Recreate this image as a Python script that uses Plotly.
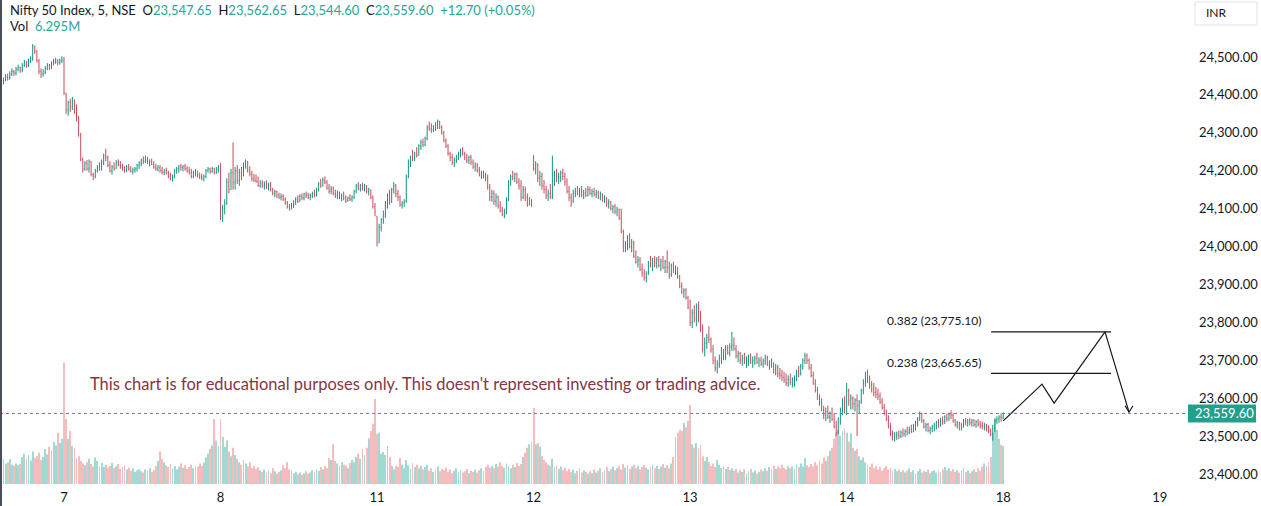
import plotly.graph_objects as go

# ---------------- DATA (5-min bars, NIFTY 50) ----------------
day_labels = ["6", "7", "8", "11", "12", "13", "14", "18"]
session_opens = [24420, 24490, 24220, 24080, 24240, 23855, 23560, 23547.65]

c06 = [24425,24432,24440,24448,24445,24455,24462,24458,24468,24472,24466,24478,24485,24480,24490,24495,24528,24515,24490,24462,24455,24460,24470,24478,24472,24482,24488,24492,24485,24490,24495]
h06 = [24438,24440,24446,24455,24456,24462,24470,24466,24474,24480,24475,24484,24492,24490,24496,24502,24534,24530,24518,24495,24470,24468,24476,24484,24482,24488,24495,24498,24494,24496,24502]
l06 = [24412,24420,24428,24436,24438,24440,24450,24450,24452,24462,24458,24460,24474,24472,24474,24484,24490,24508,24485,24455,24445,24448,24455,24465,24466,24468,24478,24482,24478,24480,24484]

c07 = [24405,24360,24380,24370,24385,24355,24340,24295,24230,24205,
       24220,24205,24225,24190,24185,24200,24210,24205,24225,24240,
       24235,24215,24200,24210,24205,24222,24215,24210,24205,24200,
       24210,24205,24198,24202,24205,24215,24220,24228,24225,24232,
       24222,24225,24218,24210,24205,24208,24200,24195,24200,24195,
       24185,24180,24185,24200,24205,24212,24208,24212,24205,24200,
       24195,24185,24195,24190,24188,24185,24180,24185,24200,24205,
       24198,24205,24195,24205,24210]
h07 = [24500,24400,24385,24390,24395,24388,24375,24345,24300,24235,
       24225,24228,24230,24225,24195,24205,24215,24222,24230,24245,
       24258,24240,24225,24215,24222,24228,24230,24225,24218,24212,
       24215,24218,24212,24208,24210,24218,24225,24232,24238,24240,
       24236,24230,24232,24225,24218,24215,24215,24210,24205,24208,
       24200,24195,24190,24205,24210,24215,24218,24215,24218,24212,
       24210,24205,24200,24205,24200,24195,24192,24190,24205,24210,
       24208,24210,24208,24210,24215]
l07 = [24400,24350,24345,24355,24360,24350,24330,24290,24225,24195,
       24200,24200,24195,24185,24175,24180,24195,24200,24200,24215,
       24225,24210,24195,24190,24200,24205,24212,24205,24200,24195,
       24196,24200,24195,24190,24195,24198,24205,24212,24218,24220,
       24218,24212,24215,24205,24200,24198,24195,24190,24188,24190,
       24180,24175,24172,24180,24192,24195,24200,24198,24200,24195,
       24190,24180,24180,24185,24182,24178,24175,24172,24180,24195,
       24192,24195,24190,24192,24195]

c08 = [24080,24100,24115,24170,24150,24195,24170,24200,24175,24195,
       24190,24218,24225,24200,24190,24180,24175,24172,24160,24168,
       24160,24165,24158,24162,24150,24140,24145,24135,24130,24132,
       24125,24115,24105,24100,24110,24118,24125,24120,24132,24128,
       24138,24135,24130,24135,24140,24135,24150,24165,24160,24175,
       24170,24155,24145,24152,24140,24135,24140,24130,24135,24128,
       24122,24128,24125,24130,24145,24160,24152,24162,24155,24160,
       24145,24150,24130,24105,24090]
h08 = [24220,24110,24125,24180,24195,24205,24275,24210,24215,24205,
       24210,24222,24230,24225,24212,24200,24192,24190,24185,24175,
       24175,24172,24175,24168,24170,24155,24150,24148,24142,24140,
       24138,24130,24120,24112,24115,24122,24130,24135,24138,24140,
       24142,24145,24142,24140,24145,24150,24155,24170,24178,24182,
       24185,24175,24165,24160,24158,24150,24148,24145,24140,24145,
       24135,24132,24138,24135,24150,24165,24170,24165,24168,24165,
       24162,24155,24150,24135,24115]
l08 = [24070,24065,24085,24110,24140,24150,24150,24150,24165,24160,
       24175,24185,24205,24195,24185,24172,24170,24168,24158,24155,
       24155,24150,24152,24148,24145,24135,24130,24128,24125,24122,
       24120,24110,24100,24095,24098,24102,24110,24115,24118,24122,
       24122,24128,24125,24122,24128,24130,24132,24145,24155,24158,
       24165,24150,24140,24138,24135,24128,24125,24125,24120,24122,
       24115,24118,24120,24118,24125,24140,24148,24145,24148,24145,
       24140,24135,24125,24100,24080]

c11 = [24010,24050,24070,24085,24110,24130,24120,24150,24160,24140,
       24130,24110,24115,24120,24185,24225,24235,24230,24245,24240,
       24265,24275,24268,24285,24315,24310,24308,24315,24312,24330,
       24315,24300,24280,24265,24245,24235,24222,24228,24238,24245,
       24252,24245,24235,24228,24235,24222,24210,24215,24200,24190,
       24195,24185,24180,24155,24130,24140,24120,24130,24108,24095,
       24085,24090,24125,24170,24185,24180,24190,24170,24160,24130,
       24150,24130,24112,24112,24110]
h11 = [24080,24060,24075,24095,24120,24140,24150,24155,24170,24165,
       24150,24135,24120,24125,24190,24230,24240,24255,24250,24262,
       24270,24282,24285,24290,24320,24330,24325,24320,24328,24335,
       24332,24320,24305,24285,24270,24250,24245,24235,24242,24250,
       24258,24262,24250,24245,24240,24242,24230,24222,24220,24210,
       24200,24200,24195,24190,24165,24150,24148,24140,24135,24120,
       24105,24100,24130,24175,24190,24200,24195,24195,24180,24175,
       24160,24158,24140,24130,24125]
l11 = [24000,24010,24040,24060,24075,24100,24110,24115,24140,24130,
       24120,24105,24100,24105,24115,24180,24210,24225,24225,24235,
       24240,24255,24262,24265,24280,24305,24300,24302,24305,24310,
       24310,24295,24275,24260,24240,24225,24215,24210,24220,24228,
       24235,24240,24228,24220,24218,24215,24205,24198,24195,24185,
       24178,24180,24172,24150,24120,24118,24110,24105,24100,24090,
       24080,24075,24085,24120,24160,24175,24170,24165,24150,24120,
       24125,24120,24105,24108,24105]

c12 = [24205,24215,24180,24185,24160,24150,24135,24140,24130,24175,
       24190,24180,24185,24195,24185,24170,24145,24130,24120,24140,
       24145,24140,24150,24138,24142,24135,24150,24140,24145,24138,
       24142,24130,24138,24125,24128,24112,24118,24100,24105,24092,
       24098,24075,24040,24000,24005,24020,24000,24010,23975,23960,
       23965,23940,23930,23918,23930,23955,23950,23960,23955,23965,
       23950,23960,23945,23960,23945,23925,23950,23940,23945,23920,
       23895,23880,23885,23865,23840]
h12 = [24240,24225,24220,24200,24195,24175,24160,24150,24165,24240,
       24200,24205,24195,24200,24205,24195,24180,24160,24140,24150,
       24155,24160,24155,24160,24150,24155,24160,24158,24152,24155,
       24150,24148,24145,24140,24135,24130,24125,24120,24110,24112,
       24105,24100,24100,24045,24015,24030,24035,24020,24015,23990,
       23975,23972,23955,23940,23935,23962,23975,23970,23975,23972,
       23975,23968,23975,23965,23990,23960,23955,23960,23950,23945,
       23925,23905,23890,23890,23870]
l12 = [24200,24190,24170,24160,24150,24140,24125,24120,24125,24125,
       24160,24170,24165,24170,24175,24160,24140,24120,24105,24115,
       24130,24135,24130,24130,24125,24130,24132,24135,24130,24132,
       24128,24125,24122,24118,24115,24105,24100,24095,24088,24085,
       24080,24070,24035,23985,23985,23990,23995,23985,23970,23955,
       23945,23935,23920,23910,23905,23925,23945,23935,23945,23942,
       23945,23935,23940,23930,23930,23915,23920,23930,23925,23915,
       23890,23875,23865,23860,23835]

c13 = [23800,23825,23810,23840,23810,23785,23730,23745,23760,23755,
       23730,23700,23680,23690,23705,23725,23710,23730,23720,23735,
       23740,23730,23712,23718,23700,23705,23695,23700,23710,23695,
       23700,23705,23695,23700,23690,23698,23705,23690,23695,23685,
       23675,23680,23665,23660,23655,23648,23640,23650,23642,23648,
       23655,23670,23665,23685,23700,23712,23700,23680,23660,23640,
       23620,23600,23590,23570,23555,23565,23550,23560,23545,23525,
       23510,23540,23565,23590,23570]
h13 = [23860,23835,23845,23850,23855,23830,23795,23760,23770,23790,
       23760,23740,23710,23700,23715,23735,23730,23740,23740,23745,
       23775,23760,23740,23725,23722,23715,23720,23710,23715,23718,
       23710,23712,23720,23708,23710,23705,23715,23712,23700,23705,
       23695,23690,23688,23680,23675,23670,23665,23660,23665,23655,
       23660,23675,23685,23690,23705,23720,23718,23705,23690,23670,
       23650,23630,23610,23600,23580,23575,23580,23565,23575,23560,
       23540,23550,23575,23600,23605]
l13 = [23790,23785,23800,23790,23800,23775,23720,23710,23730,23745,
       23720,23690,23670,23665,23680,23690,23700,23700,23715,23710,
       23725,23725,23705,23695,23690,23685,23690,23680,23685,23690,
       23680,23688,23690,23682,23685,23680,23688,23685,23675,23680,
       23665,23660,23655,23650,23645,23640,23632,23630,23635,23628,
       23630,23645,23655,23660,23675,23690,23690,23675,23655,23635,
       23615,23595,23580,23565,23545,23540,23545,23535,23540,23520,
       23500,23505,23530,23555,23560]

c14 = [23620,23595,23600,23585,23595,23580,23590,23620,23640,23665,
       23650,23635,23625,23615,23610,23605,23590,23575,23560,23545,
       23525,23505,23495,23500,23505,23500,23510,23505,23512,23510,
       23518,23515,23525,23535,23545,23560,23540,23525,23530,23515,
       23520,23525,23530,23535,23530,23542,23538,23550,23545,23558,
       23555,23540,23530,23535,23522,23530,23540,23535,23540,23535,
       23540,23530,23538,23532,23528,23525,23530,23518,23512,23505,
       23520,23540,23545,23550,23548]
h14 = [23640,23625,23610,23605,23600,23610,23595,23625,23650,23670,
       23675,23660,23645,23640,23630,23625,23615,23600,23585,23570,
       23555,23535,23515,23510,23512,23515,23515,23520,23518,23525,
       23525,23530,23532,23540,23550,23565,23562,23545,23535,23535,
       23525,23530,23535,23540,23545,23548,23552,23555,23560,23562,
       23568,23560,23545,23540,23538,23535,23545,23548,23545,23548,
       23545,23545,23542,23545,23540,23538,23535,23532,23528,23520,
       23530,23545,23552,23555,23560]
l14 = [23555,23580,23570,23570,23565,23500,23560,23585,23610,23630,
       23640,23625,23615,23605,23600,23595,23585,23570,23555,23540,
       23520,23500,23488,23485,23490,23492,23495,23498,23498,23502,
       23505,23508,23510,23515,23525,23540,23535,23520,23512,23510,
       23505,23510,23512,23518,23522,23525,23530,23532,23538,23540,
       23545,23535,23525,23520,23515,23515,23522,23528,23525,23528,
       23525,23525,23522,23525,23520,23518,23515,23512,23508,23500,
       23488,23510,23532,23535,23538]

c18 = [23559.60]
h18 = [23562.65]
l18 = [23544.60]

# volume, millions
v06 = [3.5,4.0,4.2,3.4,3.6,4.1,3.2,3.0,3.4,3.1,3.3,4.5,5.0,4.2,4.8,3.9,5.4,4.3,4.6,5.2,4.0,4.5,5.8,4.9,6.2,5.5,7.0,6.4,8.5,6.8,7.5]
v07 = [20.1,10.8,7.5,8.8,6.3,6.0,4.3,4.6,3.8,3.4,
       3.1,3.6,4.2,3.3,2.9,4.4,3.8,3.0,3.5,2.8,
       3.2,2.7,3.0,3.5,2.6,2.9,3.3,2.5,2.8,3.1,
       2.4,2.7,2.2,2.6,2.0,2.3,2.5,2.1,1.9,2.4,
       2.2,2.6,2.0,2.3,3.0,3.8,5.4,4.2,3.6,3.1,
       2.8,3.3,2.6,3.0,2.4,2.9,3.4,2.7,3.1,2.5,
       2.8,3.2,2.6,3.0,2.9,3.4,3.0,3.6,4.4,5.0,
       5.8,6.4,10.8,7.2,6.3]
v08 = [10.8,7.8,6.2,7.2,5.4,4.6,6.0,4.8,4.2,3.6,
       3.2,4.0,3.4,2.9,3.6,2.7,3.0,2.5,2.8,2.3,
       2.0,2.4,1.9,2.2,1.8,2.6,2.1,1.7,2.0,2.3,
       3.1,2.6,3.6,2.4,2.2,1.8,2.0,1.6,1.9,1.5,
       1.8,2.1,1.7,1.9,2.3,2.0,2.5,2.2,2.8,2.4,
       3.0,2.6,4.3,4.0,6.6,3.8,3.4,3.0,3.6,3.2,
       3.0,2.6,3.5,4.0,3.6,4.5,5.0,4.2,5.8,4.8,
       6.0,7.6,8.8,10.0,14.1]
v11 = [8.3,8.5,5.0,5.3,4.8,6.3,4.5,3.0,2.4,3.0,
       2.8,4.3,3.2,2.6,4.0,3.1,2.5,3.5,2.8,3.2,
       2.6,3.0,2.4,2.8,3.2,2.2,2.6,2.0,2.4,2.9,
       2.1,2.5,2.3,2.7,2.0,2.4,1.8,2.2,2.6,2.0,
       2.3,1.9,2.1,2.5,1.8,2.2,2.0,2.4,1.9,2.3,
       2.6,2.1,2.8,3.2,2.7,3.0,2.6,3.3,2.9,3.6,
       3.0,2.7,3.4,3.0,2.6,3.2,2.8,3.5,3.0,3.3,
       4.5,5.2,6.0,6.6,7.0]
v12 = [12.6,6.6,6.8,6.2,4.6,4.0,3.6,3.2,3.0,4.2,
       2.8,3.1,2.5,2.9,2.3,2.7,2.1,2.5,2.0,2.4,
       1.8,2.2,2.6,1.9,2.3,2.0,1.7,2.1,1.8,2.4,
       1.9,2.2,2.6,2.0,2.3,2.8,2.1,2.5,2.9,2.3,
       2.6,3.0,2.4,3.3,2.7,3.1,2.5,2.9,3.2,2.6,
       3.0,2.4,2.8,3.1,2.7,2.4,2.8,3.2,2.6,3.0,
       2.5,2.9,3.3,2.7,3.1,2.6,3.4,4.5,7.8,8.5,
       9.0,8.8,10.1,9.4,10.5]
v13 = [13.1,6.6,6.0,6.8,5.9,6.5,4.6,3.8,4.5,3.6,
       3.0,3.4,2.8,4.0,3.2,2.7,3.0,2.5,2.8,2.3,
       2.6,2.2,2.5,1.9,2.3,2.0,2.4,1.8,2.1,2.5,
       1.9,2.2,1.7,2.0,2.4,2.1,2.6,2.2,2.8,2.4,
       3.0,2.5,2.9,2.6,3.2,2.7,2.4,3.0,2.6,2.9,
       2.5,3.2,2.8,3.4,2.9,4.3,3.1,2.8,3.3,2.9,
       3.6,3.1,3.9,3.4,4.4,3.8,4.6,5.5,6.0,7.5,
       8.5,9.0,8.0,8.8,9.2]
v14 = [8.5,7.0,8.4,6.0,5.5,5.8,4.6,4.0,4.4,3.6,
       3.2,2.8,3.4,2.6,3.0,2.4,2.8,2.2,2.6,3.0,
       2.4,2.7,2.2,2.5,2.1,2.4,2.0,2.3,1.9,2.2,
       2.6,2.0,2.3,1.8,2.1,2.5,1.9,2.2,2.0,2.4,
       1.8,2.1,2.3,1.9,2.2,2.0,2.4,2.8,2.3,2.6,
       2.1,2.5,2.0,2.3,1.9,2.2,2.6,2.0,2.3,1.8,
       2.1,2.4,2.0,2.6,2.2,2.9,3.4,3.0,3.6,4.5,
       8.5,11.0,9.0,7.5,6.5]
v18 = [6.295]

price_ticks = [23400, 23500, 23600, 23700, 23800, 23900, 24000, 24100, 24200, 24300, 24400, 24500]
next_day_label = "19"
last_price = 23559.60

# drawings (bar index, price)
fib_levels = [0.382, 0.238]
fib_prices = [23775.10, 23665.65]
fib_x = [475.2, 532.7]
path_x = [481.0, 499.6, 505.4, 529.8, 541.3]
path_y = [23540, 23637, 23587, 23775.1, 23563]
arrow_wing_x = [539.4, 541.3, 543.2]
arrow_wing_y = [23580, 23563, 23580]

# ---------------- BUILD ----------------
closes_days = [c06, c07, c08, c11, c12, c13, c14, c18]
highs_days = [h06, h07, h08, h11, h12, h13, h14, h18]
lows_days = [l06, l07, l08, l11, l12, l13, l14, l18]
vol_days = [v06, v07, v08, v11, v12, v13, v14, v18]

closes, highs, lows, opens, vols = [], [], [], [], []
day_starts = []
for d in range(len(closes_days)):
    day_starts.append(len(closes))
    for j, c in enumerate(closes_days[d]):
        o = session_opens[d] if j == 0 else closes[-1]
        opens.append(o)
        closes.append(c)
        highs.append(max(highs_days[d][j], o, c))
        lows.append(min(lows_days[d][j], o, c))
    vols.extend(vol_days[d])

x = list(range(len(closes)))
tickvals = day_starts[1:] + [day_starts[-1] + 75]
ticktext = day_labels[1:] + [next_day_label]

UP = "#0f9480"
DN = "#c84a5a"
VUP = "#a3d8d3"
VDN = "#f3bcbd"
vcol = [VUP if c >= o else VDN for o, c in zip(opens, closes)]

W, H = 1261, 506
ML, MR, MT, MB = 0, 75, 0, 22
PW = W - ML - MR
PH = H - MT - MB
Y2_RANGE = [23373.6, 24650.4]

def px_x(p):
    return p / PW

def px_y(p):
    return 1 - p / PH

FONT = "Lato"
TXT = "#131722"
TEAL = "#26a69a"

fig = go.Figure()
fig.add_trace(go.Bar(x=x, y=vols, marker=dict(color=vcol, line=dict(width=0)),
                     width=0.42, yaxis="y", hoverinfo="skip", showlegend=False))
fig.add_trace(go.Ohlc(x=x, open=opens, high=highs, low=lows, close=closes,
                      increasing=dict(line=dict(color=UP, width=1)),
                      decreasing=dict(line=dict(color=DN, width=1)),
                      tickwidth=0.25, yaxis="y2", showlegend=False, hoverinfo="skip"))
fig.add_trace(go.Scatter(x=path_x, y=path_y, mode="lines", yaxis="y2",
                         line=dict(color="#131722", width=1.2), hoverinfo="skip", showlegend=False))
fig.add_trace(go.Scatter(x=arrow_wing_x, y=arrow_wing_y, mode="lines", yaxis="y2",
                         line=dict(color="#131722", width=1.2), hoverinfo="skip", showlegend=False))

shapes = []
shapes.append(dict(type="line", xref="paper", x0=0, x1=1, yref="y2", y0=last_price, y1=last_price,
                   line=dict(color=TEAL, width=1, dash="dot")))
for fp in fib_prices:
    shapes.append(dict(type="line", xref="x", x0=fib_x[0], x1=fib_x[1], yref="y2", y0=fp, y1=fp,
                       line=dict(color="#131722", width=1.2)))
half = 9 / (PH / (Y2_RANGE[1] - Y2_RANGE[0]))
shapes.append(dict(type="rect", xref="paper", x0=px_x(1188), x1=px_x(1256), yref="y2",
                   y0=last_price - half, y1=last_price + half, fillcolor="#22a08b", line=dict(width=0), layer="above"))
shapes.append(dict(type="rect", xref="paper", x0=px_x(1195), x1=px_x(1257), yref="paper",
                   y0=px_y(25), y1=px_y(2), fillcolor="white", line=dict(color="#e0e3eb", width=1)))
shapes.append(dict(type="line", xref="paper", x0=px_x(1), x1=px_x(1), yref="paper", y0=-MB / PH, y1=1,
                   line=dict(color="#4a4d55", width=2)))

annotations = []
hdr = ("Nifty 50 Index, 5, NSE&nbsp;&nbsp;O<span style='color:%s'>23,547.65</span>&nbsp;&nbsp;"
       "H<span style='color:%s'>23,562.65</span>&nbsp;&nbsp;L<span style='color:%s'>23,544.60</span>&nbsp;&nbsp;"
       "C<span style='color:%s'>23,559.60</span>&nbsp;&nbsp;<span style='color:%s'>+12.70 (+0.05%%)</span>") % ((TEAL,) * 5)
annotations.append(dict(text=hdr, xref="paper", yref="paper", x=px_x(8), y=px_y(10), xanchor="left",
                        yanchor="middle", showarrow=False, font=dict(family=FONT, size=13, color=TXT)))
annotations.append(dict(text="Vol&nbsp;&nbsp;<span style='color:%s'>6.295M</span>" % TEAL, xref="paper", yref="paper",
                        x=px_x(8), y=px_y(26), xanchor="left", yanchor="middle", showarrow=False,
                        font=dict(family=FONT, size=13, color=TXT)))
annotations.append(dict(text="This chart is for educational purposes only. This doesn't represent investing or trading advice.",
                        xref="paper", yref="paper", x=px_x(88), y=px_y(384), xanchor="left", yanchor="middle",
                        showarrow=False, font=dict(family=FONT, size=16.5, color="#873544")))
for lv, fp in zip(fib_levels, fib_prices):
    annotations.append(dict(text="%.3f (%s)" % (lv, format(fp, ",.2f")), xref="x", yref="y2", x=fib_x[0], y=fp,
                            xanchor="right", yanchor="middle", xshift=-8, yshift=11, showarrow=False,
                            font=dict(family=FONT, size=12, color=TXT)))
annotations.append(dict(text=format(last_price, ",.2f"), xref="paper", yref="y2",
                        x=1.0, y=last_price, xanchor="left", yanchor="middle", xshift=7, showarrow=False,
                        font=dict(family=FONT, size=13, color="white")))
annotations.append(dict(text="INR", xref="paper", yref="paper", x=px_x(1204), y=px_y(13), xanchor="left",
                        yanchor="middle", showarrow=False, font=dict(family=FONT, size=12, color=TXT)))

fig.update_layout(
    width=W, height=H, margin=dict(l=ML, r=MR, t=MT, b=MB),
    paper_bgcolor="white", plot_bgcolor="white",
    showlegend=False, hovermode=False,
    xaxis=dict(range=[0.33, 568.6], tickvals=tickvals, ticktext=ticktext, showgrid=False,
               zeroline=False, showline=False, ticks="", rangeslider=dict(visible=False),
               tickfont=dict(family=FONT, size=13, color=TXT), ticklabelstandoff=4),
    yaxis=dict(range=[0, 80.3], visible=False, fixedrange=True),
    yaxis2=dict(range=Y2_RANGE, overlaying="y", side="right", tickvals=price_ticks,
                tickformat=",.2f", showgrid=False, zeroline=False, showline=False, ticks="",
                tickfont=dict(family=FONT, size=13, color=TXT), ticklabelstandoff=12),
    shapes=shapes, annotations=annotations,
)

fig.write_html("out.html")
